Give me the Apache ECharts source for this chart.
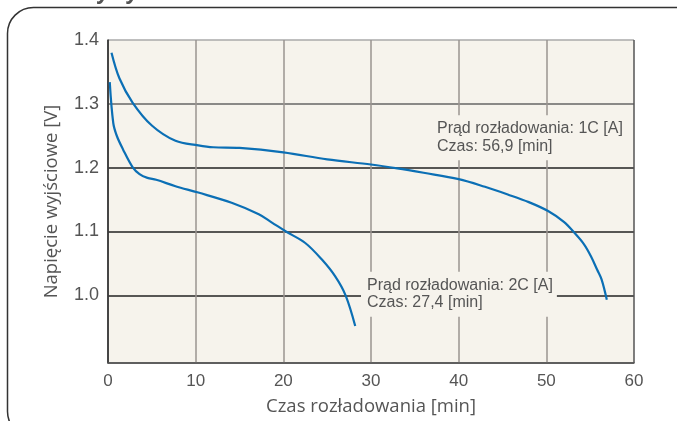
<!DOCTYPE html>
<html><head><meta charset="utf-8">
<script src="https://cdn.jsdelivr.net/npm/echarts@6/dist/echarts.min.js"></script>
<style>html,body{margin:0;padding:0;background:#fff}#c{width:677px;height:421px}</style>
</head><body><div id="c"></div>
<script>
const xTicks = [0, 10, 20, 30, 40, 50, 60];
const yTicks = [1.0, 1.1, 1.2, 1.3, 1.4];
const t1C = [0.4, 1.3, 2.8, 5.0, 7.7, 10.3, 12, 15, 20, 25, 30, 33, 36, 40, 43, 45.6, 48, 50.2, 52, 53.2, 54.3, 55.1, 55.8, 56.3, 56.9];
const v1C = [1.38, 1.34, 1.302, 1.266, 1.242, 1.235, 1.232, 1.231, 1.224, 1.213, 1.205, 1.199, 1.192, 1.182, 1.170, 1.158, 1.146, 1.132, 1.115, 1.098, 1.08, 1.061, 1.04, 1.025, 0.993];
const t2C = [0.2, 0.6, 1.0, 1.7, 2.8, 3.6, 4.5, 5.5, 7.7, 10.3, 14.1, 17.2, 18.7, 20.3, 22.5, 24.4, 25.9, 27.1, 28.2];
const v2C = [1.334, 1.27, 1.25, 1.229, 1.201, 1.19, 1.184, 1.181, 1.171, 1.161, 1.145, 1.127, 1.114, 1.1, 1.082, 1.056, 1.03, 1.0, 0.952];
const label1C = 'Prąd rozładowania: 1C [A]\nCzas: 56,9 [min]';
const label2C = 'Prąd rozładowania: 2C [A]\nCzas: 27,4 [min]';
const label1Pos = [36.84, 1.282];
const label2Pos = [28.86, 1.037];
const xName = 'Czas rozładowania [min]';
const yName = 'Napięcie wyjściowe [V]';
const titleText = 'Charakterystyka rozładowania';

const zip = (a, b) => a.map((x, i) => [x, b[i]]);
const annLabel = (txt) => ({
  show: true, formatter: txt, position: [0, 0], align: 'left', verticalAlign: 'top',
  color: '#555', fontFamily: 'Liberation Sans, Arial, sans-serif', fontSize: 16, lineHeight: 17.5,
  backgroundColor: '#f6f3ec', padding: [5, 4, 5, 6]
});

const chart = echarts.init(document.getElementById('c'), null, {renderer: 'canvas'});
chart.setOption({
  animation: false,
  backgroundColor: '#fff',
  grid: {left: 108, right: 43, top: 40, bottom: 57, show: true, backgroundColor: '#f6f3ec', borderWidth: 0},
  graphic: [
    {type: 'rect', shape: {x: 7.5, y: 7.5, width: 720, height: 430, r: 26}, style: {fill: 'none', stroke: '#333', lineWidth: 1.5}, z: 0},
    {type: 'text', left: -2, top: -17, style: {text: titleText, font: 'italic bold 21px "Open Sans", sans-serif', fill: '#555'}}
  ],
  xAxis: {
    type: 'value', min: 0, max: 60, interval: 10,
    name: xName, nameLocation: 'middle', nameGap: 34,
    nameTextStyle: {color: '#555', fontSize: 18.5, fontFamily: '"Open Sans", sans-serif'},
    axisLine: {show: true, lineStyle: {color: '#555', width: 1.5}},
    axisTick: {show: false},
    axisLabel: {color: '#555', fontSize: 17, fontFamily: 'Liberation Sans, Arial, sans-serif', margin: 10},
    splitLine: {show: true, lineStyle: {color: ['#555', '#9a9590', '#9a9590', '#9a9590', '#9a9590', '#9a9590', '#555'], width: 1.5}}
  },
  yAxis: {
    type: 'value', min: 0.894, max: 1.4, splitNumber: 5,
    name: yName, nameLocation: 'middle', nameGap: 47,
    nameTextStyle: {color: '#555', fontSize: 18.5, fontFamily: '"Open Sans", sans-serif'},
    axisLine: {show: true, lineStyle: {color: '#333', width: 1.5}},
    axisTick: {show: false},
    axisLabel: {color: '#555', fontSize: 18, fontFamily: 'Liberation Sans, Arial, sans-serif', margin: 9,
      formatter: v => (v < 0.95 ? '' : v.toFixed(1))},
    splitLine: {show: true, lineStyle: {color: ['#555', 'rgba(0,0,0,0)', '#222', '#222', '#222', '#666', '#aaa'], width: 1.5}}
  },
  series: [
    {type: 'line', data: zip(t1C, v1C), smooth: 0.35, showSymbol: false, lineStyle: {color: '#0b6fb5', width: 2.2}, z: 3,
      markPoint: {symbol: 'circle', symbolSize: 0, data: [{coord: label1Pos}], label: annLabel(label1C)}},
    {type: 'line', data: zip(t2C, v2C), smooth: 0.35, showSymbol: false, lineStyle: {color: '#0b6fb5', width: 2.2}, z: 3,
      markPoint: {symbol: 'circle', symbolSize: 0, data: [{coord: label2Pos}], label: annLabel(label2C)}}
  ]
});
</script></body></html>
